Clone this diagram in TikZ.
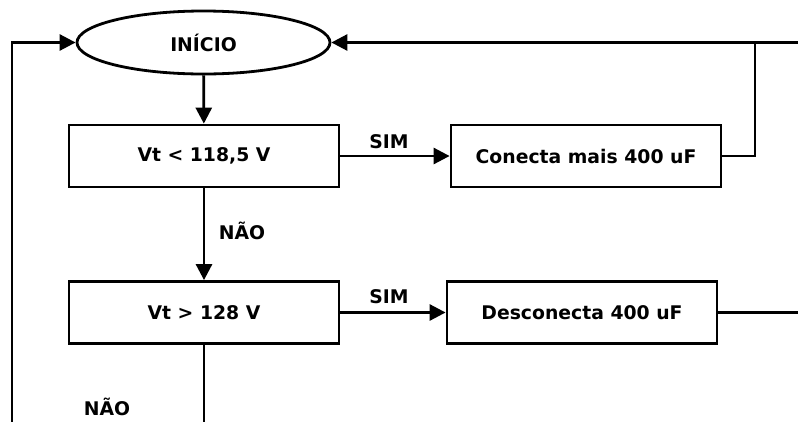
\documentclass[tikz,border=0pt]{standalone}
\usepackage{fontspec}
\setmainfont{DejaVu Sans}
\usetikzlibrary{shapes.geometric,arrows.meta}
\tikzset{
  proc/.style={draw, line width=2.8pt, minimum width=270pt, minimum height=62pt, inner sep=0pt, font=\fontsize{18.8}{22}\selectfont\bfseries},
  term/.style={draw, ellipse, line width=2.8pt, minimum width=253pt, minimum height=63pt, inner sep=0pt, font=\fontsize{18.8}{22}\selectfont\bfseries},
  lbl/.style={font=\fontsize{18.8}{22}\selectfont\bfseries, inner sep=0pt},
  conn/.style={line width=2.8pt},
  arr/.style={conn, -{Triangle[length=16pt,width=16pt]}}
}
\begin{document}
\begin{tikzpicture}[x=1pt,y=-1pt]
\useasboundingbox (0,0) rectangle (798,421);
\node[term] (inicio) at (203.5,42.5) {INÍCIO};
\node[proc] (c1) at (204,156) {Vt < 118,5 V};
\node[proc] (a1) at (586,156) {Conecta mais 400 uF};
\node[proc] (c2) at (204,312.5) {Vt > 128 V};
\node[proc] (a2) at (582,312.5) {Desconecta 400 uF};
\coordinate (lb) at (12,423);
\coordinate (lt) at (12,42.5);
\coordinate (rt) at (800,42.5);
\coordinate (rj) at (755,42.5);
\coordinate (r2) at (800,312.5);
\coordinate (bb) at (204,423);
\draw[arr] (inicio) -- (c1);
\draw[arr] (c1) -- (c2);
\draw[arr] (c1) -- (a1);
\draw[arr] (c2) -- (a2);
\draw[arr] (lb) -- (lt) -- (inicio.west);
\draw[arr] (rt) -- (inicio.east);
\draw[conn] (a1.east) -| (rj);
\draw[conn] (a2) -- (r2);
\draw[conn] (c2) -- (bb);
\node[lbl] (s1) at (389,142) {SIM};
\node[lbl] (s2) at (389,297) {SIM};
\node[lbl] (n1) at (242,231) {NÃO};
\node[lbl] (n2) at (107,407) {NÃO};
\end{tikzpicture}
\end{document}
